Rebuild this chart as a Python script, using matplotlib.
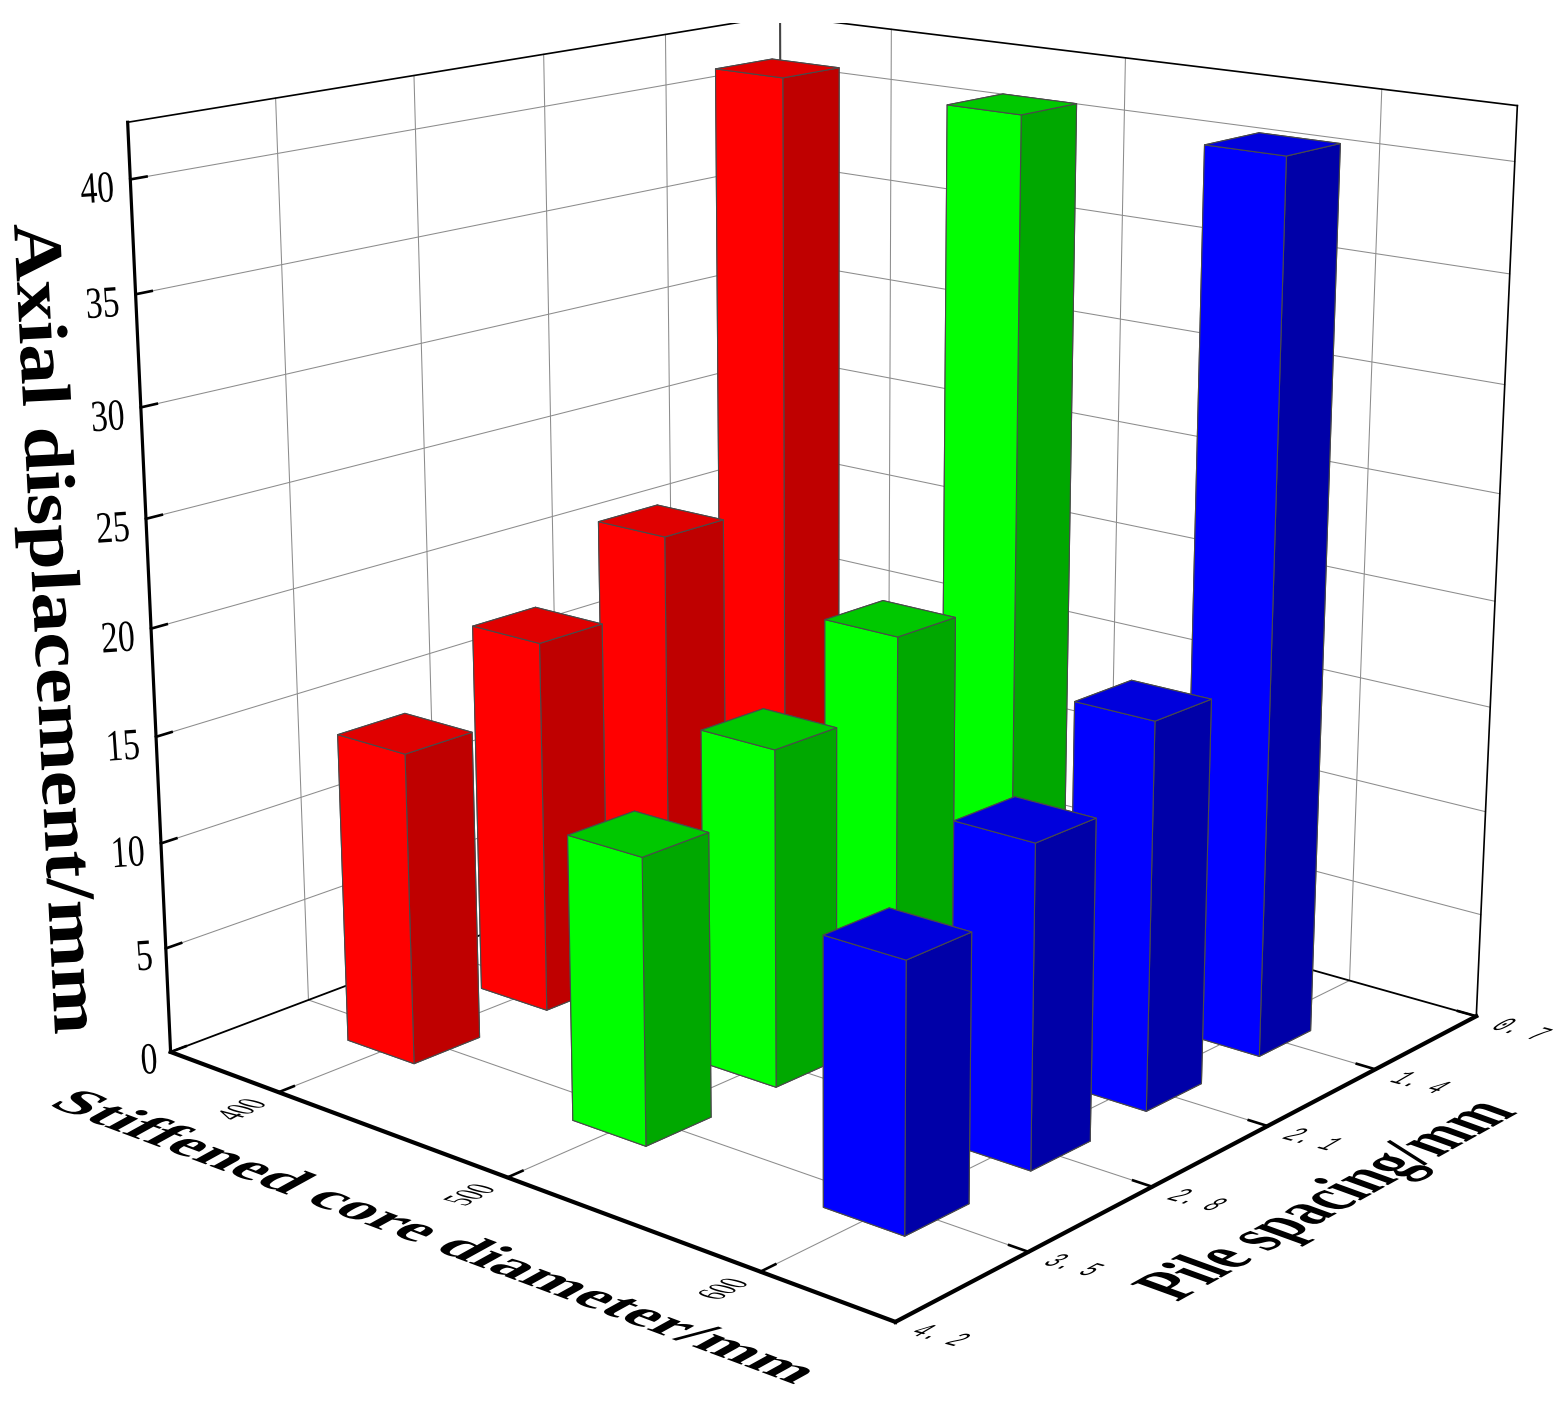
import numpy as np
import matplotlib
matplotlib.use('Agg')
import matplotlib.pyplot as plt
from matplotlib.patches import Rectangle
from matplotlib.patheffects import AbstractPathEffect
from matplotlib.transforms import Affine2D
from mpl_toolkits.mplot3d import proj3d

core_diameter = [400, 500, 600]
pile_spacing = [1.4, 2.1, 2.8, 3.5]
red_values = [41.3, 20.96, 18.08, 15.36]
green_values = [41.2, 19.04, 16.28, 14.14]
blue_values = [41.1, 18.28, 15.54, 13.42]
z_ticks = [0, 5, 10, 15, 20, 25, 30, 35, 40]
x_ticks = [400, 500, 600]
y_ticks = [0.7, 1.4, 2.1, 2.8, 3.5, 4.2]
y_labels = ['0. 7', '1. 4', '2. 1', '2. 8', '3. 5', '4. 2']
x_title = 'Stiffened core diameter/mm'
y_title = 'Pile spacing/mm'
z_title = 'Axial displacement/mm'

PW, PH = 1559, 1414
XL, XH, YFRONT, YBACK, ZT = 349.2, 649.3, 4.2, 0.7, 42.46
W, CX, CY = 1605.4, 808.9, 609.9
BAR_LIFT = [[0, 0.15, 0.38, 0.9], [0, 0.3, 0.7, 1.25], [0, 0.5, 1.1, 1.7]]
TALL_SHIFT = [1.0, 1.6, 2.6]

fig = plt.figure(figsize=(PW/100, PH/100), dpi=100, facecolor='white')
ax = fig.add_axes([(CX-W/2)/PW, 1-(CY+W/2)/PH, W/PW, W/PH], projection='3d')
ax.set_axis_off()
ax.computed_zorder = False
ax.set_proj_type('persp', focal_length=0.4823)
ax.set_box_aspect((1, 0.9887, 0.9954))
ax.view_init(elev=15.84, azim=-49.50)
ax.set_xlim3d(XL, XH); ax.set_ylim3d(YFRONT, YBACK); ax.set_zlim3d(0, ZT)


class Warp(AbstractPathEffect):
    def __init__(self, sx=1, sy=1, k=0):
        super().__init__()
        self.m = Affine2D.from_values(sx, 0, k, sy, 0, 0)

    def draw_path(self, renderer, gc, tpath, affine, rgbFace=None):
        renderer.draw_path(gc, tpath, self.m + affine, rgbFace)


def seg(a, b, color='#8c8c8c', lw=0.75, z=1):
    ax.plot([a[0], b[0]], [a[1], b[1]], [a[2], b[2]], color=color, lw=lw, zorder=z,
            clip_on=False, solid_capstyle='projecting')


# grid
for zt in z_ticks[1:]:
    seg((XL, YFRONT, zt), (XL, YBACK, zt)); seg((XL, YBACK, zt), (XH, YBACK, zt))
for xt in x_ticks:
    seg((xt, YFRONT, 0), (xt, YBACK, 0)); seg((xt, YBACK, 0), (xt, YBACK, ZT))
for yt in y_ticks[1:-1]:
    seg((XL, yt, 0), (XH, yt, 0)); seg((XL, yt, 0), (XL, yt, ZT))
# frame
seg((XL, YFRONT, 0), (XL, YFRONT, ZT), 'black', 2.3, 1.5)
seg((XL, YFRONT, 0), (XH, YFRONT, 0), 'black', 3.0, 1.5)
seg((XH, YFRONT, 0), (XH, YBACK, 0), 'black', 3.0, 1.5)
seg((XL, YFRONT, 0), (XL, YBACK, 0), 'black', 1.3, 1.5)
seg((XL, YBACK, 0), (XH, YBACK, 0), 'black', 1.3, 1.5)
seg((XH, YBACK, 0), (XH, YBACK, ZT), 'black', 1.2, 1.5)
seg((XL, YFRONT, ZT), (XL, YBACK, ZT), 'black', 1.2, 1.5)
seg((XL, YBACK, ZT), (XH, YBACK, ZT), 'black', 1.2, 1.5)
seg((XL, YBACK, 0), (XL, YBACK, ZT), '#444444', 1.5, 1.5)
# ticks
for zt in z_ticks:
    seg((XL, YFRONT, zt), (XL, YFRONT-0.075, zt), 'black', 1.9, 1.6)
for xt in x_ticks:
    seg((xt, YFRONT, 0), (xt, YFRONT-0.075, 0), 'black', 1.9, 1.6)
for yt in y_ticks[:-1]:
    seg((XH, yt, 0), (XH-7, yt, 0), 'black', 1.9, 1.6)

# bars
series = [(red_values, ['#ff0000', '#e00000', '#bf0000']),
          (green_values, ['#00ff00', '#00c800', '#00a800']),
          (blue_values, ['#0000ff', '#0000dc', '#0000a8'])]
WX, WY = 30.0, 0.34
order = 0
for col, (xc0, (vals, (cf, ct, cs))) in enumerate(zip(core_diameter, series)):
    for row, (yc0, h) in enumerate(zip(pile_spacing, vals)):
        xc = xc0 + 7.9 + 9.36*(yc0-2.8) + 0.029*(xc0-500) + (TALL_SHIFT[col] if row == 0 else 0)
        yc = 2.913 + 1.112*(yc0-2.8) + 0.0005*(xc0-500)
        z0 = BAR_LIFT[col][row]
        order += 1
        ax.bar3d(xc-WX/2, yc-WY/2, z0, WX, WY, h-z0, color=[ct, ct, cf, cf, cs, cs],
                 shade=False, edgecolor='#4a4a4a', linewidth=0.8, zorder=5+order).set_clip_on(False)

M = ax.get_proj()


def label(txt, x, y, z, off, rot, warp, size, family='Liberation Serif'):
    X, Y, _ = proj3d.proj_transform(x, y, z, M)
    ax.annotate(txt, (X, Y), xytext=off, textcoords='offset pixels', rotation=rot, rotation_mode='anchor',
                ha='left', va='baseline', fontsize=size, family=family, annotation_clip=False,
                path_effects=[Warp(*warp)], color='black', zorder=50)


for zt in z_ticks:
    off = (-49, -24) if zt >= 10 else (-29, -22)
    label(str(zt), XL, YFRONT, zt, off, 4, (0.76, 1.0, 0), 32)
for xt in x_ticks:
    label(str(xt), xt, YFRONT, 0, (-43, -29), 28, (1, 0.99, -1.07), 18)
for yt, s in zip(y_ticks, y_labels):
    label(s, XH, yt, 0, (13, -12), -15, (1, 1.15, 1.15), 14.5, 'Liberation Mono')


def title(txt, px, py, rot, warp, size):
    fig.text(px/PW, 1-py/PH, txt, rotation=rot, rotation_mode='anchor', ha='left', va='baseline',
             fontsize=size, family='Liberation Serif', weight='bold', path_effects=[Warp(*warp)], zorder=60)


title(x_title, 47, 1105, -20.5, (1, 0.625, 0.537), 48.2)
title(y_title, 1177, 1302, 29.0, (1, 1.05, -0.915), 40.0)
title(z_title, 14, 224, -87.1, (1, 0.86, 0), 58)

fig.add_artist(Rectangle((0, 1-23/PH), 1, 23/PH, transform=fig.transFigure,
                         facecolor='white', edgecolor='none', zorder=40))
fig.savefig('out.png', dpi=100)
